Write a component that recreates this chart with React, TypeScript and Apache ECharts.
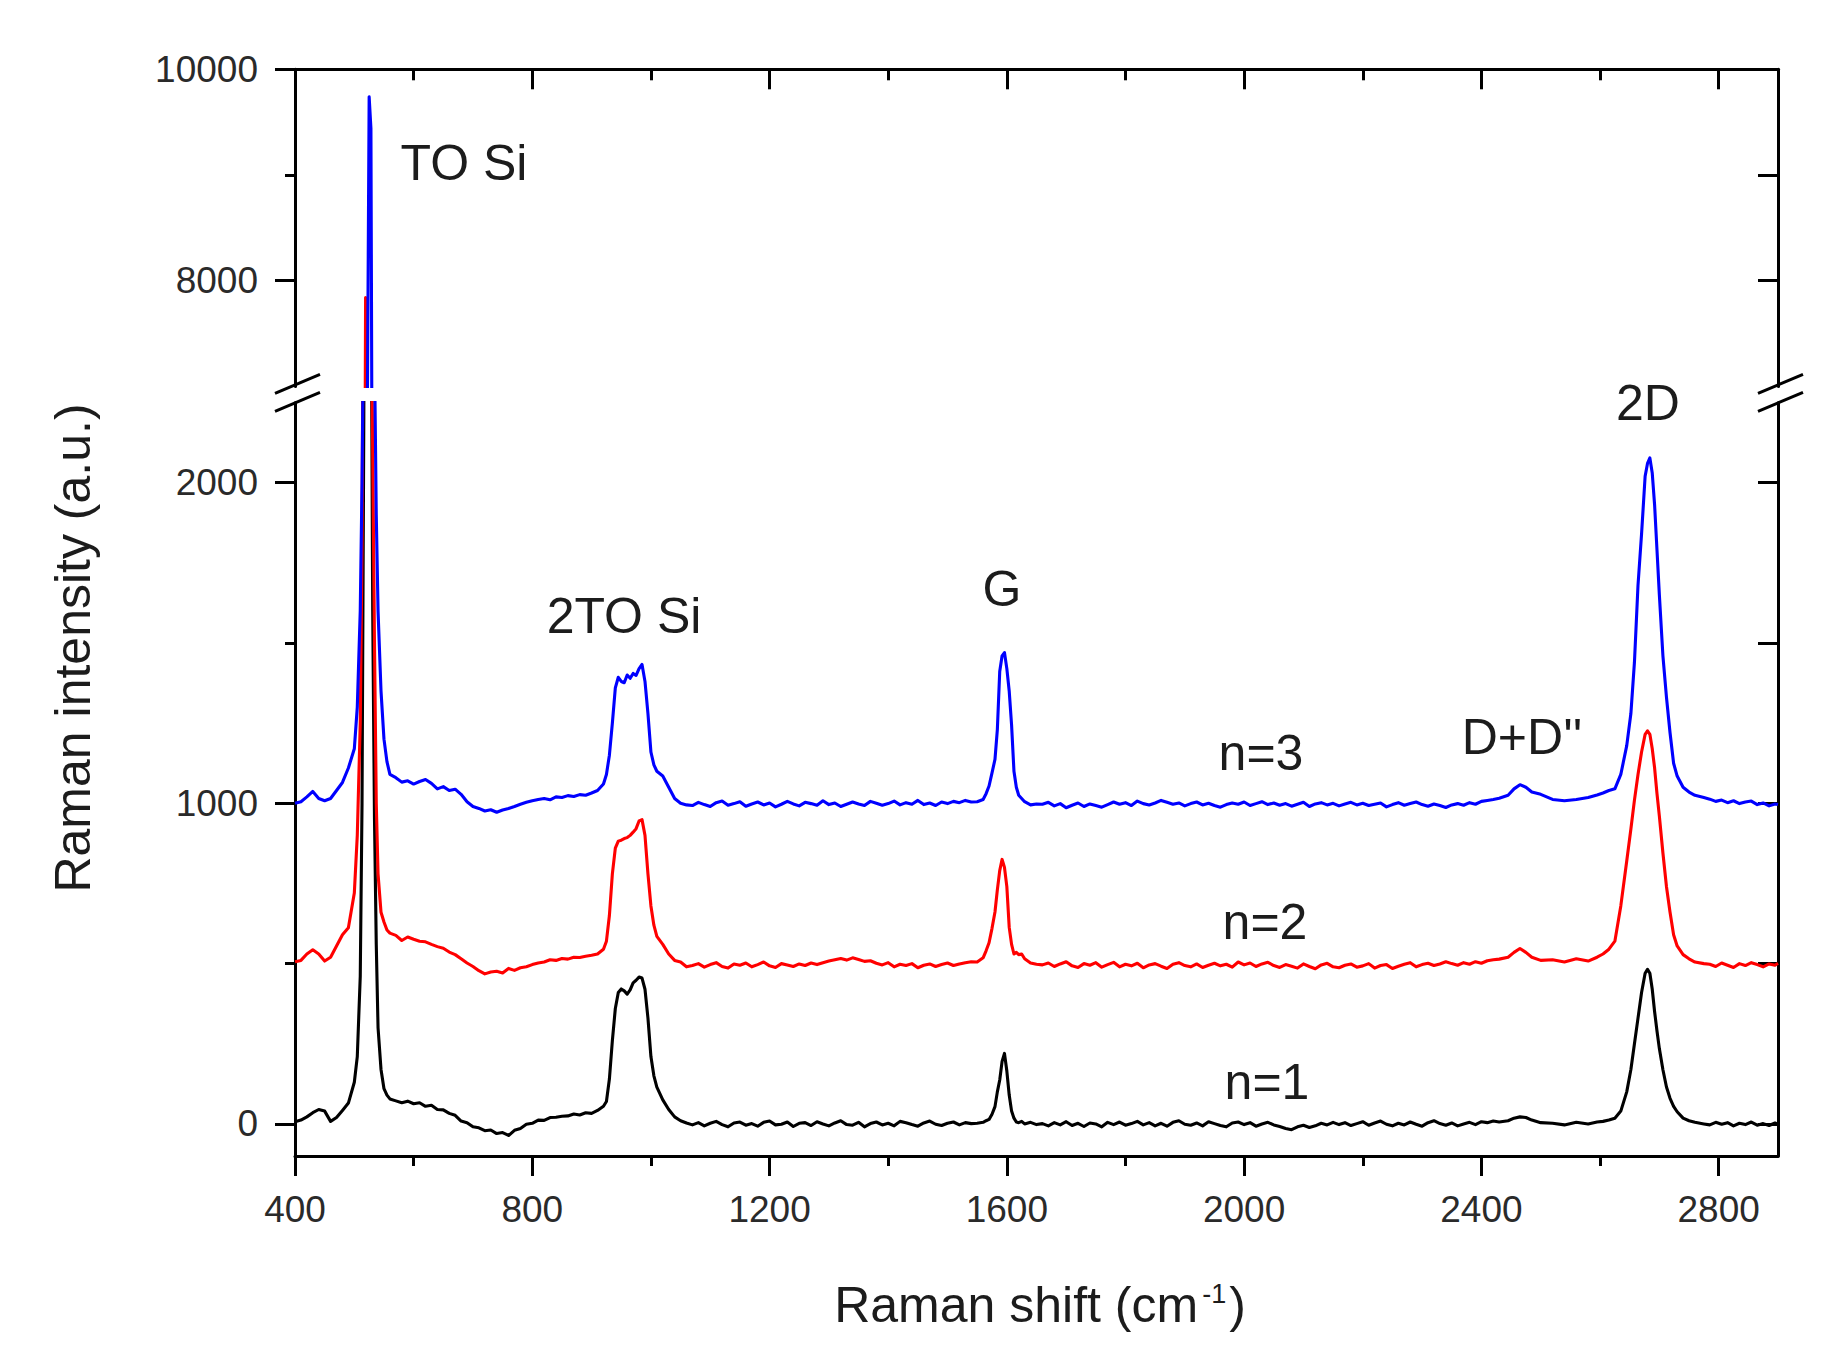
import React, { useEffect, useRef } from "react";
import * as echarts from "echarts";

// Raman shift (cm-1) sampling positions shared by the three spectra
const ramanShift = [
  400, 410, 420, 430, 440, 450, 460, 470, 480, 490, 500,
  505, 510, 513, 516, 519, 522, 525, 528, 531, 534, 537, 540, 545, 550, 555, 560,
  570, 580, 590, 600, 610, 620, 630, 640, 650, 660, 670, 680, 690, 700, 710, 720, 730, 740,
  750, 760, 770, 780, 790, 800, 810, 820, 830, 840, 850, 860, 870, 880, 890, 900, 910, 920,
  925, 930, 935, 940, 945, 950, 955, 960, 965, 970, 975, 980, 985, 990, 995, 1000, 1005, 1010, 1020, 1030, 1040, 1050, 1060,
  1070, 1080, 1090, 1100, 1110, 1120, 1130, 1140, 1150, 1160,
  1170, 1180, 1190, 1200, 1210, 1220, 1230, 1240, 1250, 1260,
  1270, 1280, 1290, 1300, 1310, 1320, 1330, 1340, 1350, 1360,
  1370, 1380, 1390, 1400, 1410, 1420, 1430, 1440, 1450, 1460,
  1470, 1480, 1490, 1500, 1510, 1520, 1530, 1540,
  1550, 1560, 1565, 1570, 1575, 1580, 1584, 1588, 1592, 1596, 1600, 1604, 1608, 1612, 1616, 1620, 1625, 1630, 1640, 1650,
  1660, 1670, 1680, 1690, 1700, 1710, 1720, 1730, 1740, 1750,
  1760, 1770, 1780, 1790, 1800, 1810, 1820, 1830, 1840, 1850,
  1860, 1870, 1880, 1890, 1900, 1910, 1920, 1930, 1940, 1950,
  1960, 1970, 1980, 1990, 2000, 2010, 2020, 2030, 2040, 2050,
  2060, 2070, 2080, 2090, 2100, 2110, 2120, 2130, 2140, 2150,
  2160, 2170, 2180, 2190, 2200, 2210, 2220, 2230, 2240, 2250,
  2260, 2270, 2280, 2290, 2300, 2310, 2320, 2330, 2340, 2350,
  2360, 2370, 2380, 2390, 2400, 2410, 2420, 2430,
  2445, 2455, 2465, 2475, 2485, 2500,
  2520, 2540, 2560, 2580, 2595, 2605, 2615, 2625, 2635, 2645, 2652, 2658, 2664, 2670, 2676, 2680, 2684, 2688, 2692, 2696,
  2700, 2706, 2712, 2718, 2724, 2730, 2740, 2750, 2760, 2775,
  2785, 2795, 2805, 2815, 2825, 2835, 2845, 2855, 2865, 2875, 2885, 2895, 2900,
];

// n=1 (black)
const intensityN1 = [
  7, 12, 22, 35, 45, 40, 8, 20, 42, 65, 130,
  210, 460, 1000, 2200, 4200, 5200, 4300, 2800, 1600, 950, 560, 300, 170, 110, 90, 78,
  72, 66, 71, 63, 66, 55, 58, 45, 44, 33, 27, 9, 4, -9, -12, -21, -19, -30,
  -27, -36, -20, -14, -1, 2, 12, 11, 20, 21, 24, 25, 31, 28, 35, 33, 42, 55,
  70, 140, 260, 360, 410, 421, 415, 405, 418, 440, 448, 458, 455, 420, 330, 210, 150, 115, 75, 45, 22, 10, 3,
  -3, 4, -6, 2, 8, -2, -9, 3, 6, -4,
  1, -7, 5, 9, -3, -1, 6, -8, 2, 4,
  -5, 7, 0, -6, 3, 10, -2, -4, 5, -9,
  1, 6, -3, 2, -6, 8, 4, -2, -7, 3,
  9, -1, -5, 2, 6, -3, 4, 1,
  2, 5, 10, 14, 30, 54, 100, 137, 195, 220, 165, 90, 40, 18, 6, 4, 8, 0, 5, -2,
  1, -6, 4, -3, 7, -5, 2, -8, 3, 0,
  -9, 5, -2, 6, -4, 1, 8, -3, 4, -6,
  2, -7, 5, 10, -1, -4, 3, -6, 7, 1,
  -5, -9, 3, 6, -2, 4, -7, 0, 5, -3,
  -8, -14, -18, -9, -4, -11, -6, 2, -3, 5,
  -2, 4, -5, 1, 7, -4, 3, 9, -1, -6,
  2, -3, 6, -1, -7, 4, 10, 1, -4, 3,
  -6, 0, 5, -2, 7, 4, 9, 6,
  10, 18, 22, 20, 12, 4,
  2, -3, 5, 0, 6, 8, 12, 18, 40, 100, 170, 250, 330, 410, 470, 482, 470, 420, 350, 290,
  235, 169, 115, 80, 55, 38, 18, 10, 5, 0,
  -3, 5, -1, 4, -6, 2, -2, 6, -4, 1, -5, 3, -2,
];

// n=2 (red)
const intensityN2 = [
  506, 510, 530, 543, 530, 508, 520, 555, 590, 612, 720,
  900, 1250, 1800, 3200, 7840, 6000, 3600, 2600, 2100, 1500, 1000, 780, 660, 630, 605, 595,
  588, 572, 583, 576, 570, 568, 560, 553, 548, 536, 528, 515, 502, 491, 478, 468, 474, 476,
  471, 485, 479, 487, 490, 497, 502, 505, 512, 510, 516, 514, 520, 519, 523, 526, 530, 545,
  570, 650, 780, 860, 882, 885, 890, 893, 900, 910, 921, 945, 949, 900, 780, 680, 620, 585, 560, 530, 510, 505, 490,
  494, 500, 489, 497, 503, 491, 486, 499, 495, 502,
  490, 497, 505, 493, 488, 500, 496, 491, 499, 494,
  502, 497, 503, 508, 512, 516, 511, 518, 513, 507,
  509, 501, 496, 503, 490, 498, 494, 500, 487, 495,
  499, 491, 497, 502, 494, 499, 503, 506,
  505, 518, 540, 565, 610, 661, 730, 790, 825, 800, 740, 613, 560, 530, 535, 528, 530, 515, 502, 498,
  496, 502, 491, 499, 506, 493, 488, 500, 495, 503,
  489, 497, 504, 490, 498, 493, 501, 487, 496, 500,
  492, 485, 498, 503, 494, 490, 499, 488, 495, 501,
  493, 498, 489, 505, 496, 502, 491, 499, 504, 494,
  488, 497, 492, 486, 499, 491, 484, 496, 501, 490,
  487, 495, 499, 489, 493, 500, 486, 494, 497, 485,
  492, 498, 503, 490, 497, 501, 494, 499, 506, 500,
  495, 503, 498, 506, 501, 509, 512, 514,
  520, 535, 547, 535, 520, 510,
  512, 505, 515, 508, 520, 530, 545, 570, 680, 820, 920, 1010, 1090, 1160, 1215, 1226, 1215, 1170, 1110, 1030,
  960, 845, 740, 660, 590, 555, 528, 515, 505, 500,
  498, 491, 502, 495, 488, 500, 494, 503, 497, 490, 499, 495, 501,
];

// n=3 (blue)
const intensityN3 = [
  1000, 1005, 1020, 1037, 1015, 1008, 1015, 1040, 1065, 1110, 1170,
  1300, 1600, 2000, 2600, 4500, 6800, 9740, 9440, 4200, 2400, 1900, 1600, 1350, 1200, 1130, 1090,
  1080, 1066, 1070, 1060, 1068, 1074, 1062, 1045, 1052, 1040, 1044, 1028, 1005, 990, 984, 976, 980, 972,
  979, 984, 990, 997, 1003, 1008, 1012, 1015, 1011, 1020, 1018, 1024, 1021, 1027, 1025, 1032, 1040, 1060,
  1090, 1150, 1250, 1360, 1393, 1380, 1376, 1400, 1390, 1405, 1399, 1420, 1433, 1380, 1280, 1160, 1120, 1100, 1085, 1050, 1015, 1000, 995,
  993, 1003, 996, 990, 1002, 1007, 994, 999, 1005, 991,
  998, 1004, 995, 1001, 989, 997, 1006, 998, 992, 1003,
  999, 994, 1008, 996, 1001, 990, 997, 1004, 998, 993,
  1006, 1000, 994, 999, 1007, 995, 1002, 997, 1009, 996,
  1001, 993, 1004, 999, 1006, 1002, 1009, 1004,
  1005, 1012, 1030, 1054, 1095, 1137, 1230, 1411, 1460, 1470, 1420, 1350, 1244, 1100, 1050, 1025, 1015, 1005, 995, 998,
  997, 1003, 992, 999, 986, 994, 1001, 990, 998, 993,
  988, 996, 1004, 997, 1002, 993, 1007, 999, 995, 1001,
  1009, 1003, 997, 1001, 992, 999, 1004, 995, 1000, 993,
  988, 996, 1001, 997, 1004, 993, 999, 1005, 996, 1001,
  994, 999, 991, 997, 1003, 990, 998, 1002, 995, 1000,
  992, 998, 1003, 995, 1000, 993, 997, 1001, 989, 996,
  1002, 994, 999, 1004, 996, 991, 998, 993, 987, 995,
  999, 994, 1002, 997, 1006, 1009, 1012, 1016,
  1025, 1045, 1058, 1050, 1035, 1028,
  1012, 1008, 1012, 1018, 1026, 1032, 1040, 1045, 1090, 1180, 1280, 1440, 1680, 1840, 2020, 2060, 2077, 2030, 1930, 1790,
  1650, 1460, 1330, 1220, 1125, 1085, 1050, 1035, 1025, 1018,
  1013, 1006, 1010, 1002, 1008, 999, 1004, 1007, 996, 1001, 992, 998, 996,
];

const seriesNames = ["n=1", "n=2", "n=3"];
const seriesColors = ["#000000", "#ff0000", "#0000ff"];

// axis ticks / labels
const xMajorTicks = [400, 800, 1200, 1600, 2000, 2400, 2800];
const xMinorTicks = [600, 1000, 1400, 1800, 2200, 2600];
const upperLabels = [8000, 10000];
const upperMinorTicks = [9000];
const upperRightTicks = [8000, 9000];
const lowerLabels = [0, 1000, 2000];
const lowerMinorTicks = [500, 1500];
const lowerRightTicks = [0, 500, 1000, 1500, 2000];

// peak annotations
const peakLabelTexts = ["TO Si", "2TO Si", "G", "D+D''", "2D"];
const curveLabelTexts = ["n=3", "n=2", "n=1"];

const FONT = '"Liberation Sans", Arial, Helvetica, sans-serif';
const TXT = "#1c1c1c";
const AX = "#000000";

const X_MIN = 400;
const X_MAX = 2900;

function tickAxis(extra: any) {
  return {
    type: "value",
    splitLine: { show: false },
    axisLine: { show: false, onZero: false },
    axisLabel: { show: false },
    ...extra,
  };
}

export default function App() {
  const ref = useRef<HTMLDivElement>(null);

  useEffect(() => {
    if (!ref.current) return;
    const chart = echarts.init(ref.current, undefined, { renderer: "svg" });

    const lineAxis = { show: true, onZero: false, lineStyle: { color: AX, width: 3 } };
    const tickStyle = { color: AX, width: 3 };
    const labelStyle = {
      fontSize: 37,
      fontFamily: FONT,
      color: "#2a2a2a",
      formatter: (v: number) => String(v),
    };

    const upperGrid = { left: 295, right: 62, top: 69.3, height: 317.1 };
    const lowerGrid = { left: 295, right: 62, top: 402.5, height: 753.5 };

    const xAxis = [
      tickAxis({
        gridIndex: 0, position: "top", min: X_MIN, max: X_MAX,
        axisLine: lineAxis,
        axisTick: { show: true, inside: true, length: 20, lineStyle: tickStyle, customValues: xMajorTicks },
      }),
      tickAxis({
        gridIndex: 0, position: "top", min: X_MIN, max: X_MAX,
        axisTick: { show: true, inside: true, length: 11, lineStyle: tickStyle, customValues: xMinorTicks },
      }),
      tickAxis({
        gridIndex: 1, position: "bottom", min: X_MIN, max: X_MAX,
        axisLine: lineAxis,
        axisTick: { show: true, inside: false, length: 20, lineStyle: tickStyle, customValues: xMajorTicks },
        axisLabel: { show: true, margin: 35, customValues: xMajorTicks, ...labelStyle },
      }),
      tickAxis({
        gridIndex: 1, position: "bottom", min: X_MIN, max: X_MAX,
        axisTick: { show: true, inside: false, length: 10, lineStyle: tickStyle, customValues: xMinorTicks },
      }),
    ];

    const yAxis = [
      tickAxis({
        gridIndex: 0, position: "left", min: 7000, max: 10000,
        axisLine: lineAxis,
        axisTick: { show: true, inside: false, length: 20, lineStyle: tickStyle, customValues: upperLabels },
        axisLabel: { show: true, margin: 37, customValues: upperLabels, ...labelStyle },
      }),
      tickAxis({
        gridIndex: 0, position: "left", min: 7000, max: 10000,
        axisTick: { show: true, inside: false, length: 10, lineStyle: tickStyle, customValues: upperMinorTicks },
      }),
      tickAxis({
        gridIndex: 0, position: "right", min: 7000, max: 10000,
        axisLine: lineAxis,
        axisTick: { show: true, inside: true, length: 20, lineStyle: tickStyle, customValues: upperRightTicks },
      }),
      tickAxis({
        gridIndex: 1, position: "left", min: -100, max: 2250,
        axisLine: lineAxis,
        axisTick: { show: true, inside: false, length: 20, lineStyle: tickStyle, customValues: lowerLabels },
        axisLabel: { show: true, margin: 37, customValues: lowerLabels, ...labelStyle },
      }),
      tickAxis({
        gridIndex: 1, position: "left", min: -100, max: 2250,
        axisTick: { show: true, inside: false, length: 10, lineStyle: tickStyle, customValues: lowerMinorTicks },
      }),
      tickAxis({
        gridIndex: 1, position: "right", min: -100, max: 2250,
        axisLine: lineAxis,
        axisTick: { show: true, inside: true, length: 20, lineStyle: tickStyle, customValues: lowerRightTicks },
      }),
    ];

    const spectra = [intensityN1, intensityN2, intensityN3];
    const series: any[] = [];
    spectra.forEach((ys, k) => {
      const data = ramanShift.map((x, i) => [x, ys[i]]);
      [
        { xAxisIndex: 0, yAxisIndex: 0 },
        { xAxisIndex: 2, yAxisIndex: 3 },
      ].forEach((ax, g) => {
        series.push({
          name: seriesNames[k] + (g === 0 ? " upper" : ""),
          type: "line",
          ...ax,
          data,
          symbol: "none",
          showSymbol: false,
          clip: true,
          silent: true,
          z: 3 + k,
          lineStyle: { color: seriesColors[k], width: 3.1, join: "round" },
        });
      });
    });

    const bigFont = { fontSize: 50, fontFamily: FONT, fill: TXT };
    const textEl = (text: string, x: number, y: number) => ({
      type: "text",
      x,
      y,
      silent: true,
      style: {
        text,
        ...bigFont,
        align: "center",
        verticalAlign: "middle",
        textAlign: "center",
        textVerticalAlign: "middle",
      },
    });

    const breakLine = (x1: number, y1: number, x2: number, y2: number) => ({
      type: "line",
      silent: true,
      shape: { x1, y1, x2, y2 },
      style: { stroke: AX, lineWidth: 3 },
    });

    const graphic = [
      textEl(peakLabelTexts[0], 464, 163),
      textEl(peakLabelTexts[1], 624, 616),
      textEl(peakLabelTexts[2], 1002, 589),
      textEl(peakLabelTexts[3], 1522, 737),
      textEl(peakLabelTexts[4], 1648, 403),
      textEl(curveLabelTexts[0], 1261, 753),
      textEl(curveLabelTexts[1], 1265, 922),
      textEl(curveLabelTexts[2], 1267, 1082),
      {
        type: "text",
        x: 73,
        y: 648,
        rotation: Math.PI / 2,
        silent: true,
        style: {
          text: "Raman intensity (a.u.)",
          ...bigFont,
          align: "center",
          verticalAlign: "middle",
          textAlign: "center",
          textVerticalAlign: "middle",
        },
      },
      {
        type: "text",
        x: 1040,
        y: 1305,
        silent: true,
        style: {
          text: "{a|Raman shift (cm}{b|-1}{a|)}",
          fill: TXT,
          fontFamily: FONT,
          fontSize: 50,
          align: "center",
          verticalAlign: "middle",
          textAlign: "center",
          textVerticalAlign: "middle",
          rich: {
            a: { fontSize: 50, fontFamily: FONT, fill: TXT, color: TXT, verticalAlign: "bottom" },
            b: { fontSize: 27, fontFamily: FONT, fill: TXT, color: TXT, verticalAlign: "top", padding: [0, 3, 0, 4] },
          },
        },
      },
      breakLine(275, 393.4, 320, 374.4),
      breakLine(275, 411.4, 320, 392.4),
      breakLine(1758, 393.4, 1803, 374.4),
      breakLine(1758, 411.4, 1803, 392.4),
    ];

    chart.setOption({
      animation: false,
      backgroundColor: "#ffffff",
      grid: [upperGrid, lowerGrid],
      xAxis,
      yAxis,
      series,
      graphic,
    });

    return () => {
      chart.dispose();
    };
  }, []);

  return (
    <div
      ref={ref}
      style={{ position: "absolute", left: 0, top: 0, width: 1840, height: 1356, background: "#fff" }}
    />
  );
}
